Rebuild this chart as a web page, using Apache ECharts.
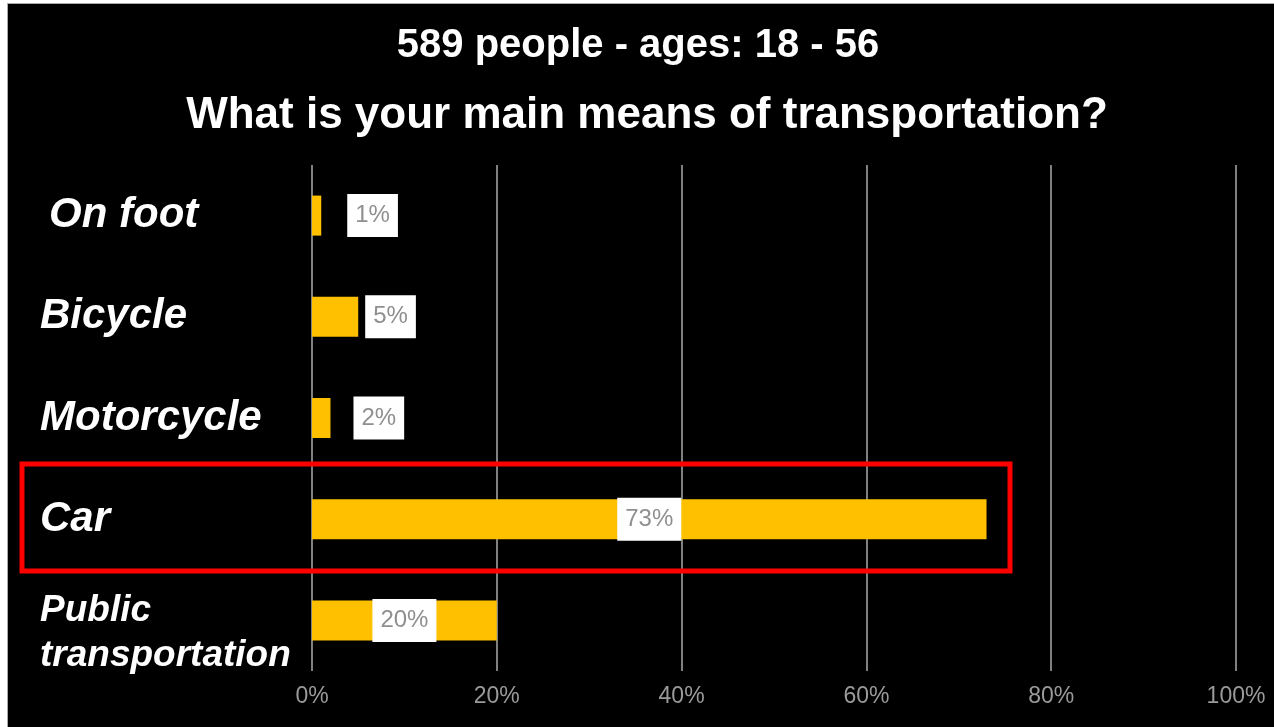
<!DOCTYPE html>
<html><head><meta charset="utf-8">
<script src="https://cdn.jsdelivr.net/npm/echarts@6/dist/echarts.min.js"></script>
<style>
html,body{margin:0;padding:0;background:#fff;width:1274px;height:727px;overflow:hidden;}
#c{position:absolute;left:7px;top:3px;width:1266px;height:723px;background:#000;border-left:1px solid #aaa;border-top:1px solid #aaa;}
</style></head>
<body><div id="c"></div>
<script>
const titleLine1 = '589 people - ages: 18 - 56';
const titleLine2 = 'What is your main means of transportation?';
const categories = ['On foot', 'Bicycle', 'Motorcycle', 'Car', 'Public\ntransportation'];
const shares = [1, 5, 2, 73, 20];
const xTicks = [0, 20, 40, 60, 80, 100];

const labelPos = ['right', 'right', 'right', 'inside', 'inside'];
const labelDist = [26, 7, 23, 0, 0];

const chart = echarts.init(document.getElementById('c'), null, {renderer: 'canvas'});
const FONT = '"Liberation Sans", Arial, sans-serif';

chart.setOption({
  backgroundColor: '#000',
  animation: false,
  title: [
    {text: titleLine1, left: 625, top: 17, textAlign: 'center',
     textStyle: {color: '#fff', fontSize: 40, fontWeight: 'bold', fontFamily: FONT}},
    {text: titleLine2, left: 634, top: 85, textAlign: 'center',
     textStyle: {color: '#fff', fontSize: 44, fontWeight: 'bold', fontFamily: FONT}}
  ],
  grid: {left: 304, right: 38, top: 161, height: 506, containLabel: false},
  xAxis: {
    type: 'value', min: 0, max: 100, interval: 20,
    axisLine: {show: false}, axisTick: {show: false},
    splitLine: {show: true, lineStyle: {color: '#808080', width: 2}},
    axisLabel: {color: '#9a9a9a', fontSize: 23, fontFamily: FONT, margin: 14,
      formatter: v => xTicks.includes(v) ? v + '%' : ''}
  },
  yAxis: {
    type: 'category', data: categories, inverse: true,
    axisLine: {show: false}, axisTick: {show: false},
    axisLabel: {
      align: 'left', margin: 272, color: '#fff',
      formatter: (v, i) => v.includes('\n') ? '{s|' + v + '}' : (i === 0 ? '{f|' + v + '}' : '{b|' + v + '}'),
      rich: {
        b: {color: '#fff', fontSize: 42, fontWeight: 'bold', fontStyle: 'italic', fontFamily: FONT},
        f: {color: '#fff', fontSize: 42, padding: [0, 0, 0, 9], fontWeight: 'bold', fontStyle: 'italic', fontFamily: FONT},
        s: {color: '#fff', fontSize: 37, lineHeight: 45, padding: [26, 0, 0, 0], fontWeight: 'bold', fontStyle: 'italic', fontFamily: FONT}
      }
    }
  },
  series: [{
    type: 'bar', barWidth: 40,
    itemStyle: {color: '#FFC000'},
    data: shares.map((v, i) => ({
      value: v,
      label: {show: true, position: labelPos[i], distance: labelDist[i]}
    })),
    label: {
      show: true, formatter: '{c}%', color: '#8f8f8f', backgroundColor: '#fff',
      fontSize: 24, lineHeight: 26, padding: [9, 8, 8, 8], fontFamily: FONT
    }
  }],
  graphic: [{
    type: 'rect', z: 100,
    shape: {x: 14, y: 460, width: 988, height: 107},
    style: {fill: null, stroke: '#ff0000', lineWidth: 5}
  }]
});
</script></body></html>
